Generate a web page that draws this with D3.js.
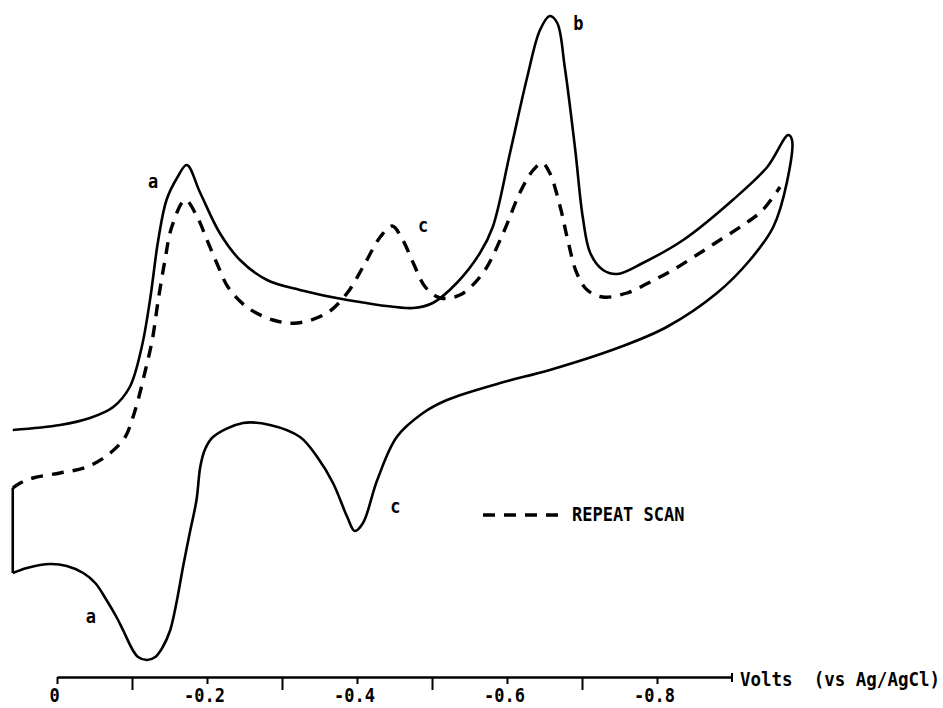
<!DOCTYPE html>
<html>
<head>
<meta charset="utf-8">
<script src="https://cdn.jsdelivr.net/npm/d3@7"></script>
<style>
  body { margin: 0; background: #fff; }
  svg { display: block; }
  text { font-family: "DejaVu Sans Mono", "Liberation Mono", monospace; font-weight: bold; fill: #000; }
</style>
</head>
<body>
<svg id="chart" width="943" height="708"></svg>
<script>
// first scan: [volts, current (arbitrary units)], forward sweep then the return sweep
var firstScan = [
  [0.059, 2.0], [-0.004, 2.5], [-0.044, 3.2], [-0.075, 4.3], [-0.097, 6.3],
  [-0.113, 10.3], [-0.124, 15.0], [-0.135, 21.0], [-0.146, 25.0], [-0.160, 27.2],
  [-0.173, 28.5], [-0.191, 25.7], [-0.217, 21.7], [-0.244, 19.0], [-0.280, 17.0],
  [-0.324, 16.0], [-0.387, 15.0], [-0.475, 14.2], [-0.501, 14.7], [-0.533, 16.7],
  [-0.564, 19.7], [-0.581, 22.3], [-0.604, 29.7], [-0.627, 37.3], [-0.644, 42.0],
  [-0.657, 43.4], [-0.667, 42.7], [-0.677, 38.3], [-0.691, 30.0], [-0.701, 23.3],
  [-0.711, 19.7], [-0.728, 18.0], [-0.747, 17.6], [-0.781, 18.7], [-0.835, 21.0],
  [-0.901, 25.0], [-0.947, 28.3], [-0.975, 31.5], [-0.980, 31.0],
  // return sweep
  [-0.973, 26.7], [-0.955, 22.3], [-0.924, 19.0], [-0.880, 15.7], [-0.813, 12.3],
  [-0.751, 10.3], [-0.657, 8.0], [-0.591, 6.7], [-0.520, 5.0], [-0.488, 3.7],
  [-0.453, 1.3], [-0.427, -3.0], [-0.408, -7.3], [-0.397, -8.1], [-0.387, -6.7],
  [-0.368, -3.3], [-0.347, -0.7], [-0.324, 1.3], [-0.284, 2.5], [-0.248, 2.7],
  [-0.208, 1.3], [-0.197, 0.0], [-0.191, -1.7], [-0.186, -5.0], [-0.177, -8.3],
  [-0.168, -11.7], [-0.160, -15.0], [-0.151, -18.0], [-0.141, -19.7], [-0.131, -20.7],
  [-0.120, -21.0], [-0.108, -20.7], [-0.101, -20.0], [-0.088, -18.0], [-0.080, -16.8],
  [-0.066, -15.0], [-0.051, -13.3], [-0.035, -12.3], [-0.013, -11.6], [0.009, -11.4],
  [0.040, -11.8], [0.059, -12.3],
  // jump back up at the start potential
  [0.059, -3.8]
];

// repeat scan (dashed), forward sweep only
var repeatScan = [
  [0.059, -3.8], [0.049, -3.3], [0.032, -2.8], [-0.004, -2.3], [-0.040, -1.7],
  [-0.071, -0.3], [-0.091, 1.3], [-0.100, 3.0], [-0.107, 4.7], [-0.117, 7.7],
  [-0.127, 11.0], [-0.135, 15.0], [-0.144, 19.0], [-0.153, 22.3], [-0.171, 25.0],
  [-0.187, 23.3], [-0.200, 21.0], [-0.213, 18.7], [-0.228, 16.3], [-0.253, 14.3],
  [-0.288, 13.0], [-0.320, 12.7], [-0.360, 13.7], [-0.387, 15.7], [-0.408, 18.3],
  [-0.431, 21.3], [-0.447, 22.4], [-0.461, 21.0], [-0.475, 18.7], [-0.491, 16.3],
  [-0.511, 15.2], [-0.537, 15.5], [-0.568, 17.7], [-0.595, 21.7], [-0.617, 25.7],
  [-0.635, 28.0], [-0.647, 28.7], [-0.657, 27.7], [-0.671, 24.3], [-0.681, 21.0],
  [-0.693, 17.7], [-0.707, 16.0], [-0.728, 15.3], [-0.760, 15.7], [-0.791, 16.8],
  [-0.821, 18.0], [-0.853, 19.5], [-0.884, 21.0], [-0.915, 22.5], [-0.941, 24.0],
  [-0.964, 26.3]
];

var labelledTicks = [0, -0.2, -0.4, -0.6, -0.8];
var tickLabels = ['0', '-0.2', '-0.4', '-0.6', '-0.8'];
var plainTicks = [-0.1, -0.3, -0.5, -0.7];
var axisEnd = -0.9;
var axisTitle = 'Volts  (vs Ag/AgCl)';

// peak letters and where they sit
var peakNames = ['a', 'a', 'b', 'c', 'c'];
var peakVolts = [-0.128, -0.045, -0.695, -0.488, -0.451];
var peakCurrents = [26.7, -16.8, 42.5, 22.3, -5.8];

var legendText = 'REPEAT SCAN';

var svg = d3.select('#chart');

// the typewriter lettering is tall and narrow, so stretch the mono font a bit
var stretch = 'scale(1,1.15)';

var x = d3.scaleLinear().domain([0, axisEnd]).range([57, 732]);
var y = d3.scaleLinear().domain([0, 40]).range([450, 50]);

var line = d3.line()
  .x(function (d) { return x(d[0]); })
  .y(function (d) { return y(d[1]); })
  .curve(d3.curveCatmullRom.alpha(0.5));

// straight piece for the vertical jump, so the corner stays sharp
var straight = d3.line()
  .x(function (d) { return x(d[0]); })
  .y(function (d) { return y(d[1]); });

svg.append('path')
  .attr('d', line(firstScan.slice(0, -1)) + straight(firstScan.slice(-2)))
  .attr('fill', 'none')
  .attr('stroke', '#000')
  .attr('stroke-width', 2.6)
  .attr('stroke-linejoin', 'round');

svg.append('path')
  .attr('d', line(repeatScan))
  .attr('fill', 'none')
  .attr('stroke', '#000')
  .attr('stroke-width', 3.4)
  .attr('stroke-dasharray', '12,9');

function addText(px, py, str, size, anchor) {
  return svg.append('text')
    .attr('transform', 'translate(' + px + ',' + py + ') ' + stretch)
    .attr('text-anchor', anchor || 'start')
    .style('font-size', size + 'px')
    .style('white-space', 'pre')
    .text(str);
}

// peak letters
peakNames.forEach(function (n, k) {
  addText(x(peakVolts[k]), y(peakCurrents[k]) + 5, n, 17, 'middle');
});

// x axis: labelled ticks short, the unlabelled ones a bit longer
var axisY = 677;
var axisMain = d3.axisBottom(x)
  .tickValues(labelledTicks)
  .tickSize(7)
  .tickSizeOuter(0)
  .tickFormat(function (d, k) { return tickLabels[k]; });

var gAxis = svg.append('g')
  .attr('transform', 'translate(0,' + axisY + ')')
  .call(axisMain);
gAxis.select('.domain').attr('stroke-width', 2.6);
gAxis.selectAll('.tick line').attr('stroke-width', 2);
gAxis.selectAll('.tick text')
  .attr('y', 0)
  .attr('dy', 0)
  .attr('x', -3)
  .attr('transform', 'translate(0,25) ' + stretch)
  .attr('font-family', null)
  .attr('font-size', null)
  .style('font-size', '17px');

var gMinor = svg.append('g')
  .attr('transform', 'translate(0,' + axisY + ')')
  .call(d3.axisBottom(x).tickValues(plainTicks).tickSize(13).tickFormat(''));
gMinor.select('.domain').remove();
gMinor.selectAll('.tick line').attr('stroke-width', 2);

// little end mark at the far end of the axis
svg.append('line')
  .attr('x1', x(axisEnd)).attr('x2', x(axisEnd))
  .attr('y1', axisY - 4).attr('y2', axisY + 5)
  .attr('stroke', '#000')
  .attr('stroke-width', 2);

addText(x(axisEnd) + 8, axisY + 9, axisTitle, 17.5, 'start');

// legend
svg.append('line')
  .attr('x1', 483).attr('x2', 562)
  .attr('y1', 515).attr('y2', 515)
  .attr('stroke', '#000')
  .attr('stroke-width', 3.4)
  .attr('stroke-dasharray', '12,9');

addText(572, 521, legendText, 17, 'start');
</script>
</body>
</html>
